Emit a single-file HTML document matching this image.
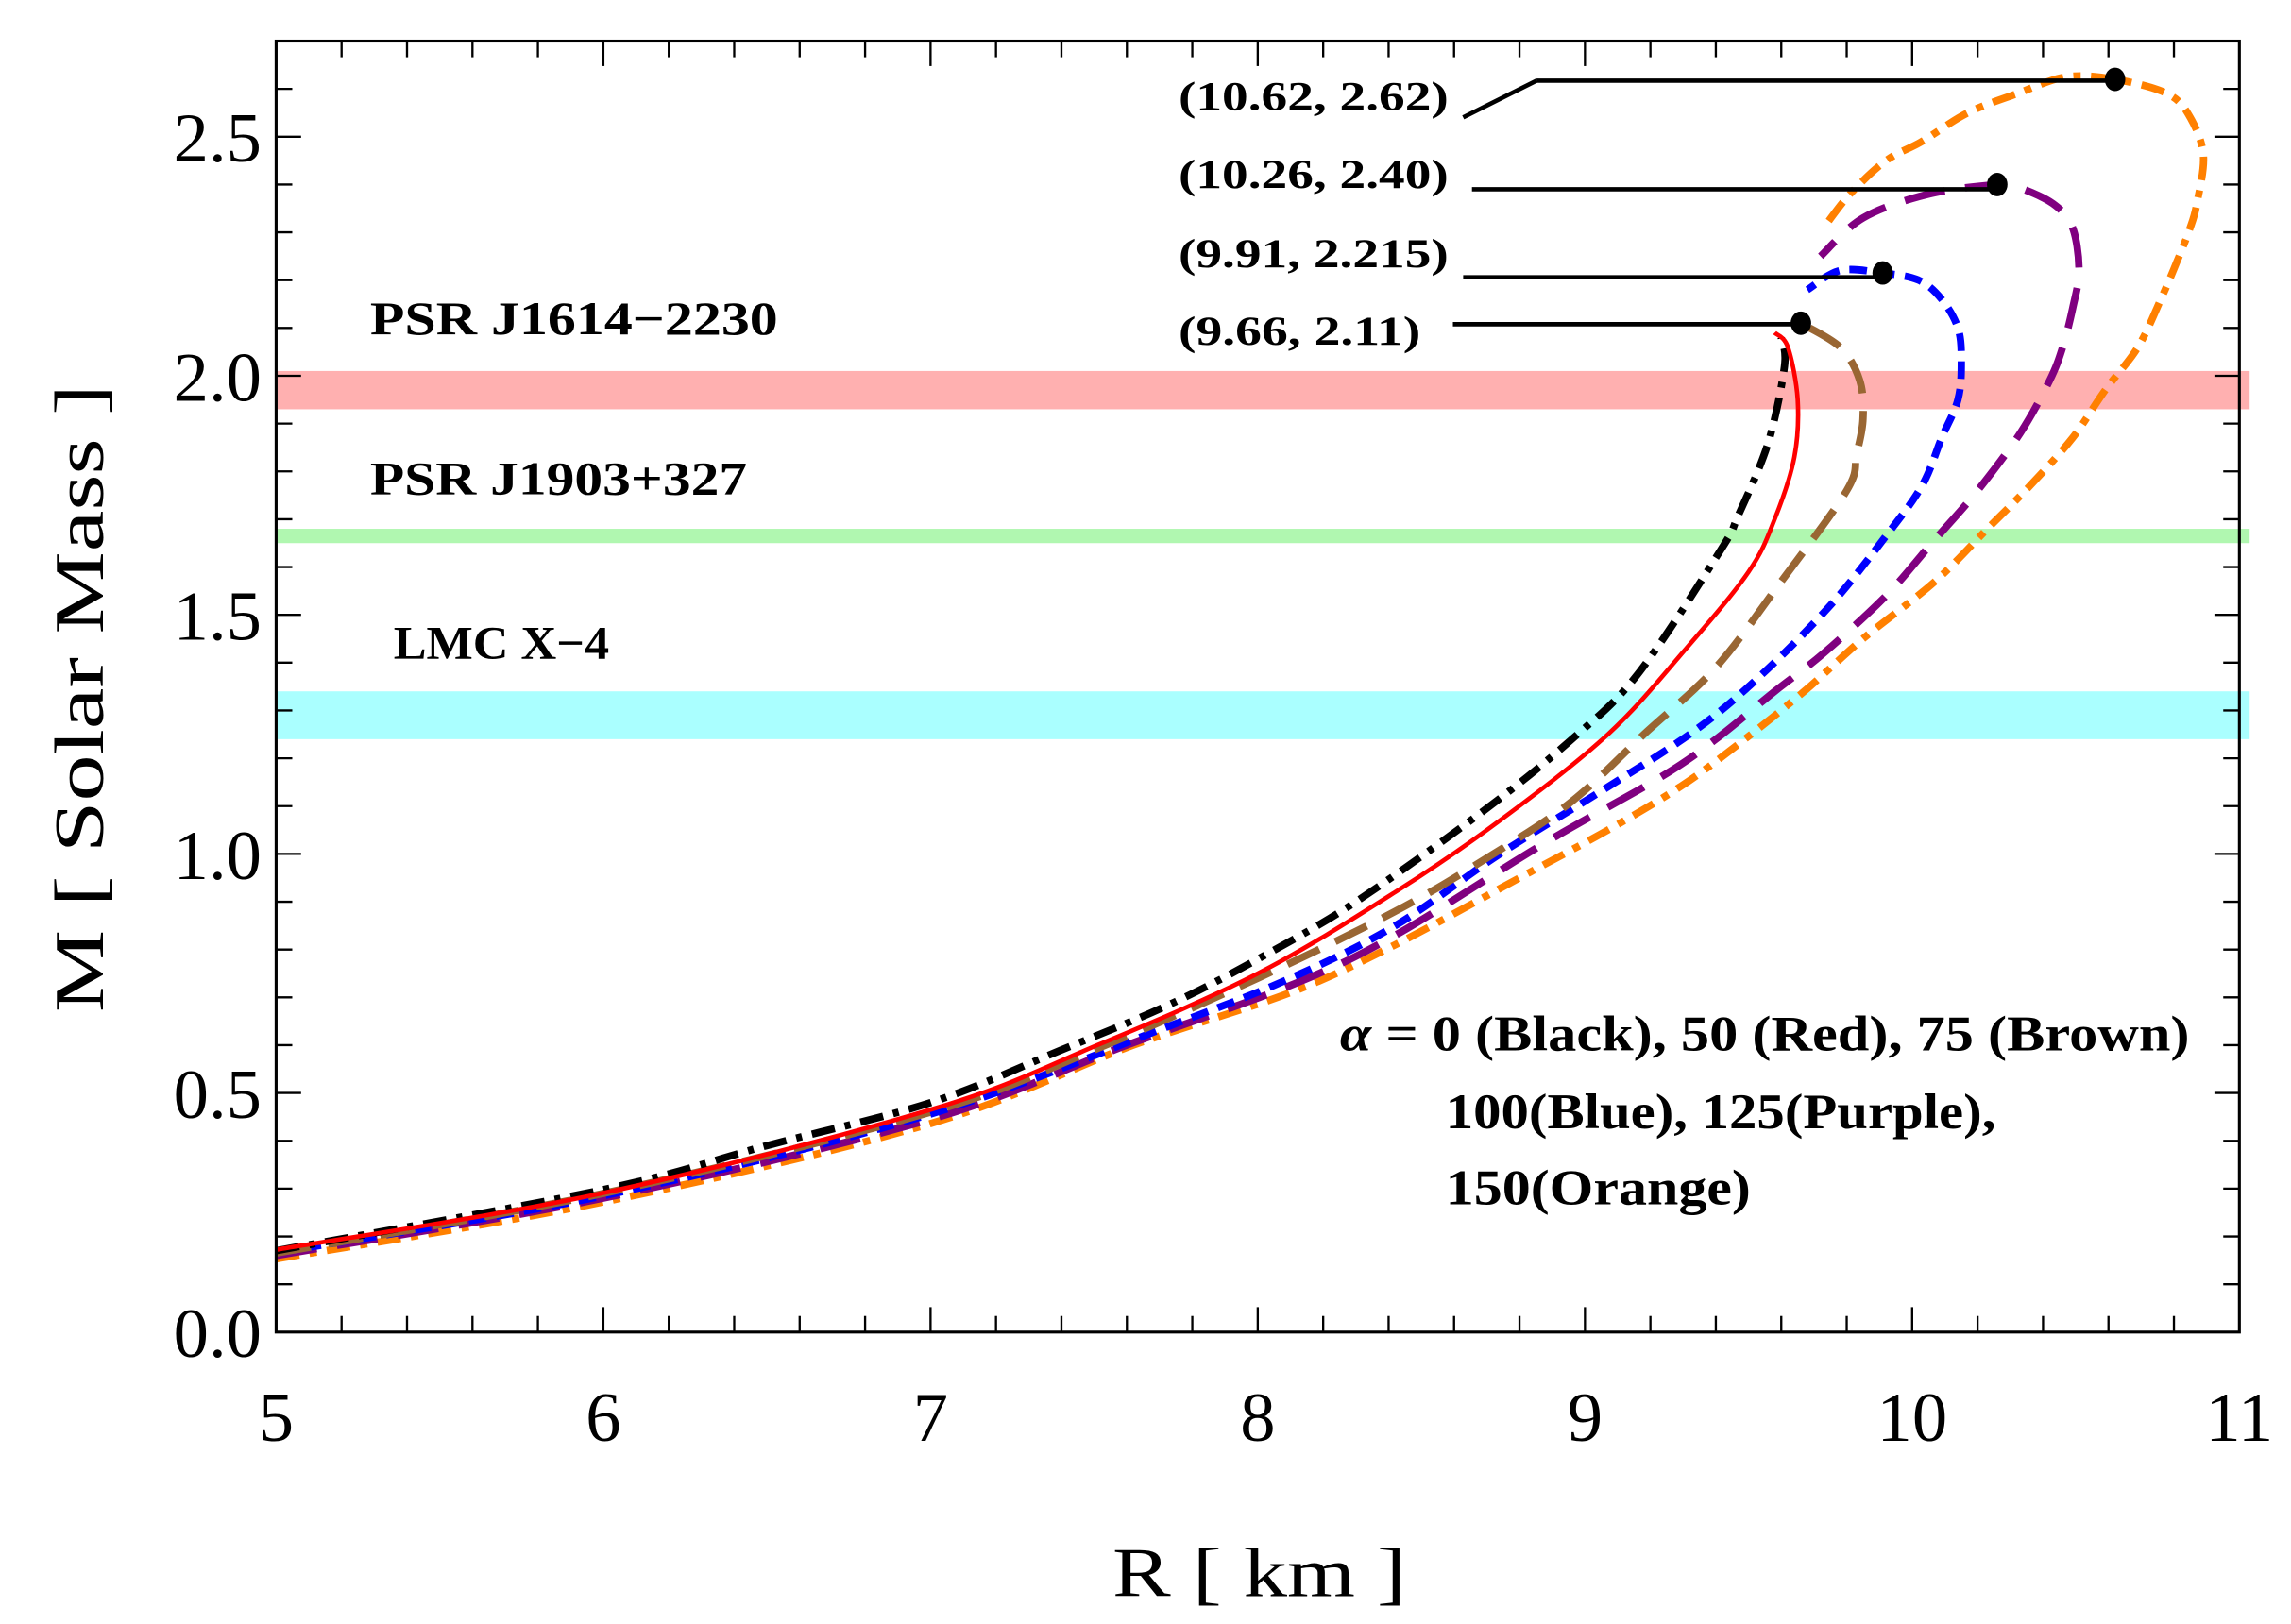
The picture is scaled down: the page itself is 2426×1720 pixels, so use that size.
<!DOCTYPE html>
<html><head><meta charset="utf-8"><style>
html,body{margin:0;padding:0;background:#fff}
svg{display:block}
text{font-family:"Liberation Serif",serif}
</style></head><body>
<svg id="chart" width="2426" height="1720" viewBox="0 0 1561 1107" xmlns="http://www.w3.org/2000/svg">
<rect width="1561" height="1107" fill="#fff"/>
<g id="bands"></g>
<g id="curves"></g>
<g id="axes"></g>
<g id="annot"></g>
</svg>
<script>
const xTicks=[5,6,7,8,9,10,11];
const yTicks=[0.0,0.5,1.0,1.5,2.0,2.5];
const bandNames=["PSR J1614\u22122230","PSR J1903+327","LMC X\u22124"];
const bandLo=[1.93,1.65,1.24];
const bandHi=[2.01,1.68,1.34];
const bandColors=["#ffb0b0","#b0f7b0","#aaffff"];
const seriesNames=["alpha-0-black","alpha-50-red","alpha-75-brown","alpha-100-blue","alpha-125-purple","alpha-150-orange"];
const blackR=[5,6,6.5,7,7.4,7.73,8,8.3,8.69,8.96,9.16,9.41,9.47,9.56,9.61,9.60];
const blackM=[0.17,0.298,0.39,0.48,0.59,0.685,0.78,0.9,1.09,1.24,1.375,1.63,1.71,1.86,2.02,2.08];
const redR=[5,6,7,7.51,8,8.42,8.74,9.07,9.31,9.50,9.58,9.64,9.65,9.62,9.58];
const redM=[0.172,0.291,0.465,0.60,0.75,0.92,1.07,1.25,1.43,1.59,1.70,1.83,1.95,2.06,2.09];
const brownR=[5,6,7,7.5,8,8.42,8.72,8.96,9.18,9.40,9.60,9.80,9.83,9.85,9.84,9.78,9.66];
const brownM=[0.165,0.29,0.46,0.59,0.74,0.88,1.0,1.11,1.25,1.39,1.57,1.76,1.835,1.91,1.99,2.06,2.11];
const blueR=[5,6,7,7.73,8.1,8.42,8.74,9.07,9.34,9.54,9.75,9.92,10.03,10.09,10.14,10.15,10.14,10.09,10.02,9.91,9.78,9.68];
const blueM=[0.166,0.285,0.456,0.64,0.74,0.85,1.0,1.14,1.26,1.375,1.52,1.665,1.77,1.87,1.95,2.03,2.10,2.16,2.20,2.215,2.22,2.18];
const purpleR=[5,6,7,7.6,8.1,8.42,8.87,9.23,9.40,9.58,9.73,9.92,10.06,10.2,10.33,10.42,10.46,10.49,10.51,10.49,10.43,10.32,10.26,10.05,9.85,9.72];
const purpleM=[0.16,0.28,0.445,0.60,0.725,0.83,1.02,1.16,1.24,1.34,1.42,1.54,1.65,1.76,1.88,1.99,2.06,2.14,2.22,2.31,2.36,2.395,2.40,2.38,2.33,2.25];
const orangeR=[5,6,7,7.62,8.1,8.42,8.8,9.07,9.29,9.47,9.67,9.85,10.07,10.23,10.36,10.49,10.59,10.69,10.76,10.81,10.85,10.87,10.89,10.85,10.78,10.62,10.47,10.32,10.17,10.03,9.92,9.81,9.73];
const orangeM=[0.153,0.272,0.436,0.60,0.71,0.81,0.95,1.05,1.14,1.23,1.34,1.45,1.57,1.68,1.77,1.87,1.97,2.06,2.16,2.24,2.31,2.36,2.46,2.54,2.59,2.62,2.625,2.59,2.55,2.49,2.45,2.38,2.31];
const maxR=[9.66,9.91,10.26,10.62];
const maxM=[2.11,2.215,2.40,2.62];
const maxLabels=["(9.66, 2.11)","(9.91, 2.215)","(10.26, 2.40)","(10.62, 2.62)"];

const X0=188,X1=1526,Y0=908,Y1=28,xmin=5,xmax=11,ymin=0,ymax=2.7;
const sx=v=>X0+(v-xmin)/(xmax-xmin)*(X1-X0);
const sy=v=>Y0-(v-ymin)/(ymax-ymin)*(Y0-Y1);
const NS="http://www.w3.org/2000/svg";
function mk(tag,attrs,parent){const e=document.createElementNS(NS,tag);for(const k in attrs)e.setAttribute(k,attrs[k]);parent.appendChild(e);return e;}
const gB=document.getElementById('bands'),gC=document.getElementById('curves'),gA=document.getElementById('axes'),gN=document.getElementById('annot');

bandLo.forEach((lo,i)=>{
  const r=mk('rect',{x:X0,y:sy(bandHi[i]),width:1533-X0,height:sy(lo)-sy(bandHi[i]),fill:bandColors[i]},gB);
  
  
});
const bandLabelPos=[[252,228],[252,337],[268,449]];
const bandLabelLen=[278,257,147];
bandNames.forEach((n,i)=>{
  const t=mk('text',{x:bandLabelPos[i][0],y:bandLabelPos[i][1],'font-size':32,'font-weight':'bold',textLength:bandLabelLen[i],lengthAdjust:'spacingAndGlyphs'},gN);
  t.textContent=n;
  
  
});

function pathFrom(R,M){
  const p=R.map((r,i)=>[sx(r),sy(M[i])]);
  let d='M'+p[0][0].toFixed(1)+','+p[0][1].toFixed(1);
  for(let i=0;i<p.length-1;i++){
    const a=p[Math.max(0,i-1)],b=p[i],c=p[i+1],e=p[Math.min(p.length-1,i+2)];
    const c1=[b[0]+(c[0]-a[0])/6,b[1]+(c[1]-a[1])/6],c2=[c[0]-(e[0]-b[0])/6,c[1]-(e[1]-b[1])/6];
    d+=' C'+c1.map(v=>v.toFixed(1))+' '+c2.map(v=>v.toFixed(1))+' '+c[0].toFixed(1)+','+c[1].toFixed(1);
  }
  return d;
}
const seriesR=[blackR,redR,brownR,blueR,purpleR,orangeR];
const seriesM=[blackM,redM,brownM,blueM,purpleM,orangeM];
const styles=[
 {stroke:'#000',w:5,dash:'16 7 4 7'},
 {stroke:'#ff0000',w:3,dash:''},
 {stroke:'#996633',w:5,dash:'24 12'},
 {stroke:'#0000ff',w:5,dash:'12 7'},
 {stroke:'#800080',w:5,dash:'28 14'},
 {stroke:'#ff8000',w:5,dash:'16 7 5 7'}];
[5,4,3,2,0,1].forEach(i=>{
  const s=styles[i];
  const p=mk('path',{d:pathFrom(seriesR[i],seriesM[i]),fill:'none',stroke:s.stroke,'stroke-width':s.w},gC);
  if(s.dash)p.setAttribute('stroke-dasharray',s.dash);
  
  
});

const fr=mk('rect',{x:X0,y:Y1,width:X1-X0,height:Y0-Y1,fill:'none',stroke:'#000','stroke-width':2},gA);


for(let v=5;v<=11.001;v+=0.2){
  const major=Math.abs(v-Math.round(v))<1e-6,L=major?17:11,x=sx(v);
  mk('line',{x1:x,y1:Y0,x2:x,y2:Y0-L,stroke:'#000','stroke-width':1.5},gA);
  mk('line',{x1:x,y1:Y1,x2:x,y2:Y1+L,stroke:'#000','stroke-width':1.5},gA);
}
for(let v=0;v<=2.7001;v+=0.1){
  const major=Math.abs(v*2-Math.round(v*2))<1e-6,L=major?17:11,y=sy(v);
  mk('line',{x1:X0,y1:y,x2:X0+L,y2:y,stroke:'#000','stroke-width':1.5},gA);
  mk('line',{x1:X1,y1:y,x2:X1-L,y2:y,stroke:'#000','stroke-width':1.5},gA);
}
xTicks.forEach(v=>{
  const t=mk('text',{x:sx(v),y:982,'font-size':48,'text-anchor':'middle'},gA);
  t.textContent=String(v);
  
  
});
yTicks.forEach(v=>{
  const t=mk('text',{x:178,y:sy(v)+17,'font-size':48,'text-anchor':'end'},gA);
  t.textContent=v.toFixed(1);
  
  
});
const xt=mk('text',{x:758,y:1088,'font-size':48,textLength:200,lengthAdjust:'spacingAndGlyphs'},gA);
xt.textContent='R  [ km ]';


const yt=mk('text',{x:-690,y:70,'font-size':48,transform:'rotate(-90)',textLength:428,lengthAdjust:'spacingAndGlyphs'},gA);
yt.textContent='M  [ Solar  Mass ]';



const labelY=[235,182,128,75];
const labelLen=[165,184,184,184];
const lineStartX=[990,997,1003,1047];
const lineY=[221,189,129,55];
maxR.forEach((r,i)=>{
  const x=sx(r),y=sy(maxM[i]);
  if(i===3) mk('line',{x1:997,y1:80,x2:1047,y2:55,stroke:'#000','stroke-width':3},gN);
  const ln=mk('line',{x1:lineStartX[i],y1:lineY[i],x2:x,y2:lineY[i],stroke:'#000','stroke-width':3},gN);
  
  
  const c=mk('ellipse',{cx:x,cy:y,rx:7,ry:8,fill:'#000'},gN);
  
  
  const t=mk('text',{x:803,y:labelY[i],'font-size':28,'font-weight':'bold',textLength:labelLen[i],lengthAdjust:'spacingAndGlyphs'},gN);
  t.textContent=maxLabels[i];
  
  
});
</script>
<svg style="position:absolute;left:0;top:0" width="2426" height="1720" viewBox="0 0 1561 1107">
<text x="913" y="716" font-size="34" font-weight="bold" font-family="Liberation Serif, serif" textLength="579" lengthAdjust="spacingAndGlyphs"><tspan font-style="italic">α</tspan> = 0 (Black), 50 (Red), 75 (Brown)</text>
<text x="985" y="769" font-size="34" font-weight="bold" font-family="Liberation Serif, serif" textLength="375" lengthAdjust="spacingAndGlyphs">100(Blue), 125(Purple),</text>
<text x="985" y="821" font-size="34" font-weight="bold" font-family="Liberation Serif, serif" textLength="208" lengthAdjust="spacingAndGlyphs">150(Orange)</text>
</svg>
</body></html>
